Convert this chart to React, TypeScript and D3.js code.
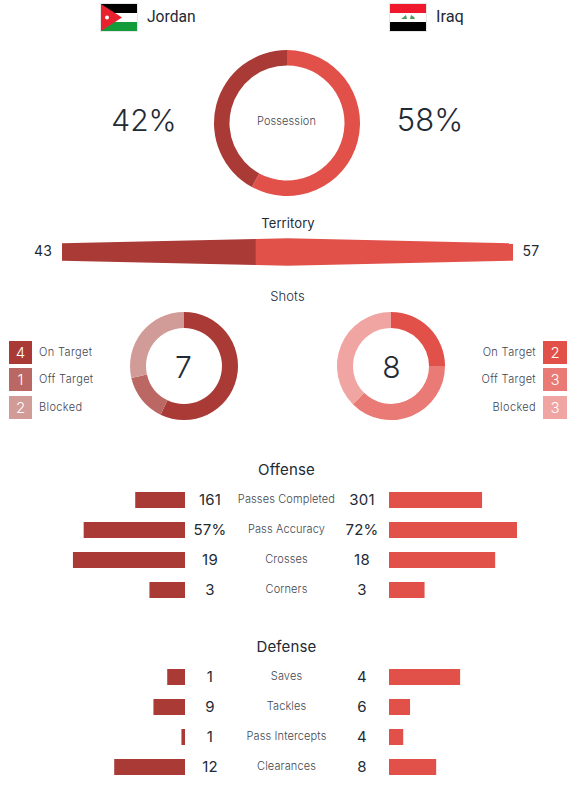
import React from "react";
import * as d3 from "d3";

const teams = ["Jordan", "Iraq"];
const possession = [42, 58];
const territory = [43, 57];
const shotLabels = ["On Target", "Off Target", "Blocked"];
const jordanShots = [4, 1, 2];
const iraqShots = [2, 3, 3];
const jordanShotColors = ["#a93a36", "#bb6763", "#d19b98"];
const iraqShotColors = ["#e2504a", "#ea7a75", "#f0a5a2"];
const offenseLabels = ["Passes Completed", "Pass Accuracy", "Crosses", "Corners"];
const offenseLeft = [161, 57, 19, 3];
const offenseRight = [301, 72, 18, 3];
const offenseText = [["161", "301"], ["57%", "72%"], ["19", "18"], ["3", "3"]];
const offenseDomain = [414, 72, 21.7, 10.8];
const defenseLabels = ["Saves", "Tackles", "Pass Intercepts", "Clearances"];
const defenseLeft = [1, 9, 1, 12];
const defenseRight = [4, 6, 4, 8];
const defenseDomain = [7.2, 36.5, 36, 21.7];

const DARK = "#a93a36";
const RED = "#e2504a";
const TEXT = "#222a35";
const LABEL = "#3f4650";
const SANS = "Roboto, sans-serif";
const WIDE = "Inter, sans-serif";

function Donut({ cx, cy, outer, inner, values, colors }: { cx: number; cy: number; outer: number; inner: number; values: number[]; colors: string[] }) {
  const arcs = d3.pie<number>().sort(null)(values);
  const arc = d3.arc<d3.PieArcDatum<number>>().innerRadius(inner).outerRadius(outer);
  return (
    <g transform={`translate(${cx},${cy})`}>
      {arcs.map((a, i) => <path key={i} d={arc(a) ?? ""} fill={colors[i]} />)}
    </g>
  );
}

function StatRows({ labels, left, right, text, domain, top }: { labels: string[]; left: number[]; right: number[]; text: string[][]; domain: number[]; top: number }) {
  return (
    <g>
      {labels.map((l, i) => {
        const x = d3.scaleLinear().domain([0, domain[i]]).range([0, 128]);
        const y = top + i * 30;
        return (
          <g key={l}>
            <rect x={185 - x(left[i])} y={y} width={x(left[i])} height={16} fill={DARK} />
            <rect x={389} y={y} width={x(right[i])} height={16} fill={RED} />
            <text x={210} y={y + 13} textAnchor="middle" fontFamily={WIDE} fontSize={15} letterSpacing={0.2} fill={TEXT}>{text[i][0]}</text>
            <text x={362} y={y + 13} textAnchor="middle" fontFamily={WIDE} fontSize={15} letterSpacing={0.2} fill={TEXT}>{text[i][1]}</text>
            <text x={286.5} y={y + 11} textAnchor="middle" fontFamily={WIDE} fontSize={11} fontWeight={300} letterSpacing={0.12} fill={LABEL}>{l}</text>
          </g>
        );
      })}
    </g>
  );
}

function ShotLegend({ values, colors, side }: { values: number[]; colors: string[]; side: "left" | "right" }) {
  const tops = [341, 368, 396];
  return (
    <g>
      {values.map((v, i) => {
        const top = tops[i];
        const bx = side === "left" ? 9 : 543;
        const bw = side === "left" ? 23 : 24;
        return (
          <g key={i}>
            <rect x={bx} y={top} width={bw} height={23} fill={colors[i]} />
            <text x={bx + bw / 2} y={top + 16.5} textAnchor="middle" fontFamily={WIDE} fontSize={15} fontWeight={300} fill="#fff">{v}</text>
            <text x={side === "left" ? 39 : 536} y={top + 15} textAnchor={side === "left" ? "start" : "end"} fontFamily={WIDE} fontSize={11} fontWeight={300} letterSpacing={0.35} fill={LABEL}>{shotLabels[i]}</text>
          </g>
        );
      })}
    </g>
  );
}

export default function App() {
  const tx = d3.scaleLinear().domain([0, territory[0] + territory[1]]).range([62, 513]);
  const split = tx(territory[0]);
  const mid = tx(50);
  const half = d3.scaleLinear().domain([62, mid, 513]).range([8.7, 13.8, 8.7]);
  const cy = 252;
  const darkPts: [number, number][] = [[62, cy - half(62)], [split, cy - half(split)], [split, cy + half(split)], [62, cy + half(62)]];
  const redPts: [number, number][] = [[split, cy - half(split)], [mid, cy - half(mid)], [513, cy - half(513)], [513, cy + half(513)], [mid, cy + half(mid)], [split, cy + half(split)]];
  const line = d3.line();
  return (
    <svg width={584} height={808} style={{ position: "absolute", left: 0, top: 0, background: "#fff" }}>
      {/* Jordan flag */}
      <g>
        <rect x={100.5} y={3.5} width={37} height={28} fill="#fff" stroke="#e6e6e6" />
        <rect x={101} y={4} width={36} height={9} fill="#000" />
        <rect x={101} y={22} width={36} height={9} fill="#149b3a" />
        <path d="M101,4 L122,17.5 L101,31 Z" fill="#e8212e" />
        <circle cx={107} cy={17.5} r={2} fill="#fff" />
      </g>
      <text x={147} y={22} fontFamily={SANS} fontSize={15.6} fill={TEXT}>{teams[0]}</text>
      {/* Iraq flag */}
      <g>
        <rect x={389.5} y={3.5} width={37} height={28} fill="#fff" stroke="#e6e6e6" />
        <rect x={390} y={4} width={36} height={9} fill="#f0182d" />
        <rect x={390} y={22} width={36} height={9} fill="#000" />
        <path d="M401,19 L403,17.5 L406,15 L407,19 Z M410,19 L411,15 L414,17 L415,19 Z" fill="#4f9a62" />
      </g>
      <text x={436} y={22} fontFamily={SANS} fontSize={16.4} fill={TEXT}>{teams[1]}</text>

      <text x={144} y={131} textAnchor="middle" fontFamily={WIDE} fontSize={30} fontWeight={300} fill={TEXT}>{possession[0]}%</text>
      <text x={430} y={131} textAnchor="middle" fontFamily={WIDE} fontSize={31} fontWeight={300} fill={TEXT}>{possession[1]}%</text>
      <Donut cx={287} cy={123} outer={73} inner={57.5} values={[possession[1], possession[0]]} colors={[RED, DARK]} />
      <text x={286.5} y={125} textAnchor="middle" fontFamily={WIDE} fontSize={11} fontWeight={300} letterSpacing={0.1} fill={LABEL}>Possession</text>

      <text x={288} y={228} textAnchor="middle" fontFamily={WIDE} fontSize={13} letterSpacing={0.1} fill={TEXT}>Territory</text>
      <text x={43} y={256} textAnchor="middle" fontFamily={WIDE} fontSize={14} letterSpacing={0.2} fill={TEXT}>{territory[0]}</text>
      <text x={531} y={256} textAnchor="middle" fontFamily={WIDE} fontSize={14} letterSpacing={0.2} fill={TEXT}>{territory[1]}</text>
      <path d={line(darkPts) + "Z"} fill={DARK} />
      <path d={line(redPts) + "Z"} fill={RED} />

      <text x={287.5} y={301} textAnchor="middle" fontFamily={WIDE} fontSize={13} fontWeight={300} letterSpacing={0.1} fill={TEXT}>Shots</text>
      <ShotLegend values={jordanShots} colors={jordanShotColors} side="left" />
      <ShotLegend values={iraqShots} colors={iraqShotColors} side="right" />
      <Donut cx={184} cy={366} outer={54} inner={38} values={jordanShots} colors={jordanShotColors} />
      <Donut cx={391} cy={366} outer={54} inner={38} values={iraqShots} colors={iraqShotColors} />
      <text x={183.5} y={378} textAnchor="middle" fontFamily={WIDE} fontSize={30} fontWeight={300} fill={TEXT}>{d3.sum(jordanShots)}</text>
      <text x={391.5} y={378} textAnchor="middle" fontFamily={WIDE} fontSize={30} fontWeight={300} fill={TEXT}>{d3.sum(iraqShots)}</text>

      <text x={286.5} y={475} textAnchor="middle" fontFamily={WIDE} fontSize={15} letterSpacing={0.15} fill={TEXT}>Offense</text>
      <StatRows labels={offenseLabels} left={offenseLeft} right={offenseRight} text={offenseText} domain={offenseDomain} top={492} />
      <text x={286.5} y={652} textAnchor="middle" fontFamily={WIDE} fontSize={15} letterSpacing={0.15} fill={TEXT}>Defense</text>
      <StatRows labels={defenseLabels} left={defenseLeft} right={defenseRight} text={defenseLeft.map((v, i) => [String(v), String(defenseRight[i])])} domain={defenseDomain} top={669} />
    </svg>
  );
}
